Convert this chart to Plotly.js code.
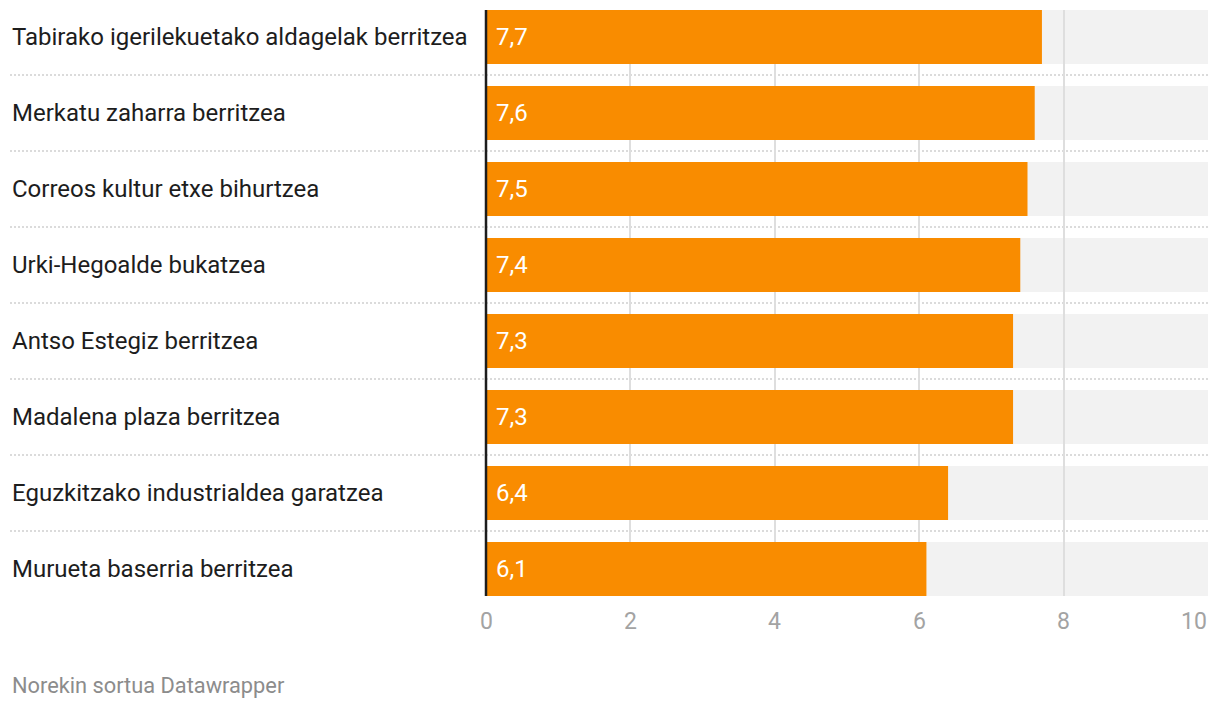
<!DOCTYPE html>
<html>
<head>
<meta charset="utf-8">
<script src="https://cdn.plot.ly/plotly-3.0.1.min.js"></script>
<style>
  html, body { margin: 0; padding: 0; background: #fff; }
  #chart { width: 1220px; height: 708px; }
</style>
</head>
<body>
<div id="chart"></div>
<script>
// ---- data ----
const categories = [
  "Tabirako igerilekuetako aldagelak berritzea",
  "Merkatu zaharra berritzea",
  "Correos kultur etxe bihurtzea",
  "Urki-Hegoalde bukatzea",
  "Antso Estegiz berritzea",
  "Madalena plaza berritzea",
  "Eguzkitzako industrialdea garatzea",
  "Murueta baserria berritzea"
];
const values = [7.7, 7.6, 7.5, 7.4, 7.3, 7.3, 6.4, 6.1];
const valueLabels = ["7,7", "7,6", "7,5", "7,4", "7,3", "7,3", "6,4", "6,1"];
const scaleMax = 10;
const tickValues = [0, 2, 4, 6, 8, 10];
const tickLabels = ["0", "2", "4", "6", "8", "10"];
const footerText = "Norekin sortua Datawrapper";

// ---- layout constants ----
const W = 1220, H = 708;
const mL = 486, mR = 12, mT = 10, mB = 112;
const plotW = W - mL - mR;
const plotH = H - mT - mB;
const barFrac = 0.71;
const FONT = "Roboto, 'Open Sans', sans-serif";

const n = categories.length;
const idx = categories.map((_, i) => i);
const px2paperX = p => (p - mL) / plotW;
const px2paperY = p => (H - mB - p) / plotH;

const shapes = [];
// background bars (full scale) below gridlines
idx.forEach(i => {
  shapes.push({
    type: "rect", layer: "below", xref: "x", yref: "y",
    x0: 0, x1: scaleMax, y0: i - barFrac / 2, y1: i + barFrac / 2,
    fillcolor: "#f2f2f2", line: { width: 0 }
  });
});
// dotted separators between rows
for (let i = 0; i < n - 1; i++) {
  shapes.push({
    type: "line", layer: "below", xref: "paper", yref: "y",
    x0: px2paperX(10), x1: 1, y0: i + 0.5, y1: i + 0.5,
    line: { color: "#cfcfcf", width: 1.5, dash: "2px,2px" }
  });
}
// baseline (value axis at 0), paper-referenced so it is not clipped
shapes.push({
  type: "line", layer: "above", xref: "paper", yref: "paper",
  x0: px2paperX(486), x1: px2paperX(486), y0: 0, y1: 1,
  line: { color: "#1d1d1d", width: 2.5 }
});

const annotations = [];
idx.forEach(i => {
  annotations.push({
    xref: "paper", yref: "y", x: px2paperX(10), y: i,
    xanchor: "left", yanchor: "middle", showarrow: false,
    text: categories[i],
    font: { family: FONT, size: 24, color: "#1d1d1d" }
  });
  annotations.push({
    xref: "x", yref: "y", x: 0, y: i, xshift: 8,
    xanchor: "left", yanchor: "middle", showarrow: false,
    text: valueLabels[i],
    font: { family: FONT, size: 24, color: "#ffffff" }
  });
});
// x tick labels (last one right-aligned at the plot edge)
tickValues.forEach((v, k) => {
  const last = k === tickValues.length - 1;
  annotations.push({
    xref: "x", yref: "paper", x: v, y: px2paperY(621),
    xanchor: last ? "right" : "center", yanchor: "middle", showarrow: false,
    xshift: last ? 1 : 0,
    text: tickLabels[k],
    font: { family: FONT, size: 23, color: "#a3a3a3" }
  });
});
annotations.push({
  xref: "paper", yref: "paper", x: px2paperX(10), y: px2paperY(685),
  xanchor: "left", yanchor: "middle", showarrow: false,
  text: footerText,
  font: { family: FONT, size: 21.8, color: "#8c8c8c" }
});

const trace = {
  type: "bar", orientation: "h",
  x: values, y: idx,
  width: barFrac,
  marker: { color: "#f98c00", line: { width: 0 } },
  hoverinfo: "skip"
};

const layout = {
  width: W, height: H,
  margin: { l: mL, r: mR, t: mT, b: mB, pad: 0 },
  paper_bgcolor: "#ffffff", plot_bgcolor: "rgba(0,0,0,0)",
  showlegend: false,
  xaxis: {
    range: [0, scaleMax], fixedrange: true,
    tickvals: tickValues, showticklabels: false,
    showgrid: true, gridcolor: "#dedede", gridwidth: 2,
    zeroline: false,
    showline: false, ticks: ""
  },
  yaxis: {
    range: [n - 1 + barFrac / 2, -barFrac / 2], fixedrange: true,
    showticklabels: false, showgrid: false, zeroline: false, showline: false, ticks: ""
  },
  shapes: shapes,
  annotations: annotations
};

Plotly.newPlot("chart", [trace], layout, { displayModeBar: false, staticPlot: true });
</script>
</body>
</html>
